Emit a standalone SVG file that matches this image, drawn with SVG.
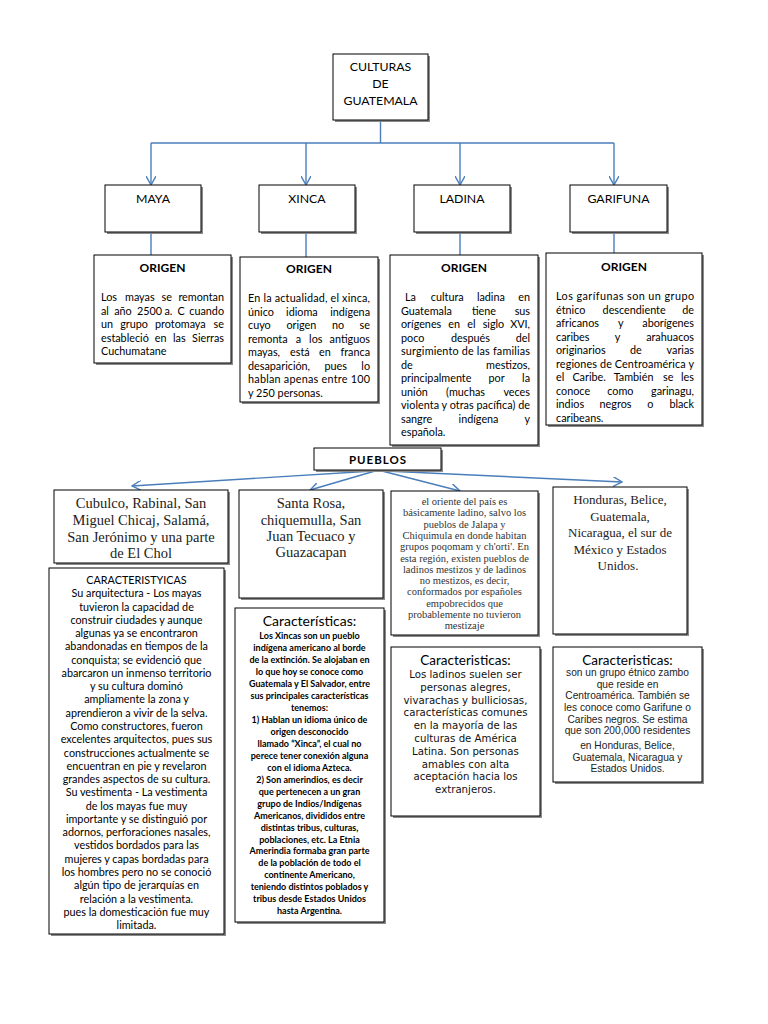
<svg xmlns="http://www.w3.org/2000/svg" width="768" height="1024" viewBox="0 0 768 1024">
<defs>
<style>
.bx{fill:#fff;stroke:#000;stroke-width:1}
.sh{fill:#8a8a8a}
.c{stroke:#4a7ebb;stroke-width:1.4;fill:none}
.cal{font-family:Lato,"Liberation Sans",sans-serif;fill:#000}
.hd{font-size:12.3px;text-anchor:middle}
.og{font-size:12px;font-weight:bold;text-anchor:middle}
.ob{font-size:10.8px}
.e{text-anchor:end}
.tnr{font-family:"Liberation Serif","Times New Roman",serif;fill:#222;text-anchor:middle}
.mc{font-size:10.8px;text-anchor:middle}
.xc{font-size:9px;font-weight:bold;text-anchor:middle}
.tt{font-size:13.5px;text-anchor:middle}
.ver{font-family:"DejaVu Sans",Verdana,sans-serif;font-size:10.2px;text-anchor:middle;fill:#111}
.ari{font-family:"Liberation Sans",Arial,sans-serif;font-size:10.2px;text-anchor:middle;fill:#222}
</style>
<marker id="ar" viewBox="0 0 10 10" refX="9" refY="5" markerWidth="10" markerHeight="10" markerUnits="userSpaceOnUse" orient="auto">
<path d="M0,0 L9,5 L0,10" fill="none" stroke="#4a7ebb" stroke-width="1.4"/>
</marker>
</defs>
<rect width="768" height="1024" fill="#fff"/>

<g id="connectors">
<path class="c" d="M380.5,120 V143 M151,143 H614"/>
<path class="c" d="M151,143 V185" marker-end="url(#ar)"/>
<path class="c" d="M306,143 V185" marker-end="url(#ar)"/>
<path class="c" d="M460,143 V185" marker-end="url(#ar)"/>
<path class="c" d="M614,143 V185" marker-end="url(#ar)"/>
<path class="c" d="M151,232 V255 M306,232 V257 M460,232 V255 M614,232 V253"/>
<path class="c" d="M373,471 L132,486" marker-end="url(#ar)"/>
<path class="c" d="M375,471 L310,490" marker-end="url(#ar)"/>
<path class="c" d="M382,471 L460,491" marker-end="url(#ar)"/>
<path class="c" d="M385,471 L622,482" marker-end="url(#ar)"/>
</g>

<g id="root">
<rect class="sh" x="335" y="56" width="95" height="66"/>
<rect class="bx" x="333" y="54" width="95" height="66"/>
<text class="cal hd" x="380.5" y="71">CULTURAS</text>
<text class="cal hd" x="380.5" y="88">DE</text>
<text class="cal hd" x="380.5" y="105">GUATEMALA</text>
</g>

<g id="maya">
<rect class="sh" x="107" y="187" width="96" height="47"/>
<rect class="bx" x="105" y="185" width="96" height="47"/>
<text class="cal hd" x="153" y="203">MAYA</text>
</g>
<g id="xinca">
<rect class="sh" x="261" y="187" width="96" height="47"/>
<rect class="bx" x="259" y="185" width="96" height="47"/>
<text class="cal hd" x="307" y="203">XINCA</text>
</g>
<g id="ladina">
<rect class="sh" x="416" y="187" width="96" height="47"/>
<rect class="bx" x="414" y="185" width="96" height="47"/>
<text class="cal hd" x="462" y="203">LADINA</text>
</g>
<g id="garifuna">
<rect class="sh" x="572" y="187" width="97" height="47"/>
<rect class="bx" x="570" y="185" width="97" height="47"/>
<text class="cal hd" x="618.5" y="203">GARIFUNA</text>
</g>

<g id="origen-maya">
<rect class="sh" x="96" y="257" width="137" height="108"/>
<rect class="bx" x="94" y="255" width="137" height="108"/>
<text class="cal og" x="162.5" y="272">ORIGEN</text>
<g class="cal ob">
<text y="301"><tspan x="101">Los</tspan><tspan x="125">mayas</tspan><tspan x="161.5">se</tspan></text><text class="e" x="224" y="301">remontan</text>
<text y="314.5"><tspan x="101">al</tspan><tspan x="114.2">año</tspan><tspan x="137">2500</tspan><tspan x="164.5">a.</tspan><tspan x="177.5">C</tspan></text><text class="e" x="224" y="314.5">cuando</text>
<text y="328"><tspan x="101">un</tspan><tspan x="120.2">grupo</tspan><tspan x="155">protomaya</tspan></text><text class="e" x="224" y="328">se</text>
<text y="341.5"><tspan x="101">estableció</tspan><tspan x="154.8">en</tspan><tspan x="173">las</tspan></text><text class="e" x="224" y="341.5">Sierras</text>
<text x="101" y="355">Cuchumatane</text>
</g>
</g>

<g id="origen-xinca">
<rect class="sh" x="242" y="259" width="138" height="145"/>
<rect class="bx" x="240" y="257" width="138" height="145"/>
<text class="cal og" x="309" y="273">ORIGEN</text>
<g class="cal ob">
<text x="248" y="302" textLength="122" lengthAdjust="spacing">En la actualidad, el xinca,</text>
<text y="315.5"><tspan x="248">único</tspan><tspan x="286.1">idioma</tspan></text><text class="e" x="370" y="315.5">indígena</text>
<text y="329"><tspan x="248">cuyo</tspan><tspan x="286.4">origen</tspan><tspan x="332">no</tspan></text><text class="e" x="370" y="329">se</text>
<text y="342.5"><tspan x="248">remonta</tspan><tspan x="295.8">a</tspan><tspan x="309.1">los</tspan></text><text class="e" x="370" y="342.5">antiguos</text>
<text y="356"><tspan x="248">mayas,</tspan><tspan x="290">está</tspan><tspan x="319.1">en</tspan></text><text class="e" x="370" y="356">franca</text>
<text y="369.5"><tspan x="248">desaparición,</tspan><tspan x="324.5">pues</tspan></text><text class="e" x="370" y="369.5">lo</text>
<text x="248" y="383" textLength="122" lengthAdjust="spacing">hablan apenas entre 100</text>
<text x="248" y="396.5">y 250 personas.</text>
</g>
</g>

<g id="origen-ladina">
<rect class="sh" x="392" y="257" width="148" height="190"/>
<rect class="bx" x="390" y="255" width="148" height="190"/>
<text class="cal og" x="464" y="272">ORIGEN</text>
<g class="cal ob">
<text y="301"><tspan x="405">La</tspan><tspan x="430.8">cultura</tspan><tspan x="476.9">ladina</tspan></text><text class="e" x="530" y="301">en</text>
<text y="314.5"><tspan x="401">Guatemala</tspan><tspan x="471.9">tiene</tspan></text><text class="e" x="530" y="314.5">sus</text>
<text y="328"><tspan x="401">orígenes</tspan><tspan x="448.2">en</tspan><tspan x="467.2">el</tspan><tspan x="482.7">siglo</tspan></text><text class="e" x="530" y="328">XVI,</text>
<text y="341.5"><tspan x="401">poco</tspan><tspan x="451">después</tspan></text><text class="e" x="530" y="341.5">del</text>
<text x="401" y="355" textLength="129" lengthAdjust="spacing">surgimiento de las familias</text>
<text x="401" y="368.5">de</text><text class="e" x="530" y="368.5">mestizos,</text>
<text y="382"><tspan x="401">principalmente</tspan><tspan x="488.5">por</tspan></text><text class="e" x="530" y="382">la</text>
<text y="395.5"><tspan x="401">unión</tspan><tspan x="446.1">(muchas</tspan></text><text class="e" x="530" y="395.5">veces</text>
<text x="401" y="409" textLength="129" lengthAdjust="spacing">violenta y otras pacífica) de</text>
<text y="422.5"><tspan x="401">sangre</tspan><tspan x="458.6">indígena</tspan></text><text class="e" x="530" y="422.5">y</text>
<text x="401" y="436">española.</text>
</g>
</g>

<g id="origen-garifuna">
<rect class="sh" x="548" y="255" width="156" height="172"/>
<rect class="bx" x="546" y="253" width="156" height="172"/>
<text class="cal og" x="624" y="271">ORIGEN</text>
<g class="cal ob">
<text x="556" y="300" textLength="138" lengthAdjust="spacing">Los garífunas son un grupo</text>
<text y="313.5"><tspan x="556">étnico</tspan><tspan x="602.6">descendiente</tspan></text><text class="e" x="694" y="313.5">de</text>
<text y="327"><tspan x="556">africanos</tspan><tspan x="618">y</tspan></text><text class="e" x="694" y="327">aborígenes</text>
<text y="340.5"><tspan x="556">caribes</tspan><tspan x="614.7">y</tspan></text><text class="e" x="694" y="340.5">arahuacos</text>
<text y="354"><tspan x="556">originarios</tspan><tspan x="630">de</tspan></text><text class="e" x="694" y="354">varias</text>
<text x="556" y="367.5" textLength="138" lengthAdjust="spacing">regiones de Centroamérica y</text>
<text y="381"><tspan x="556">el</tspan><tspan x="572.4">Caribe.</tspan><tspan x="613.7">También</tspan><tspan x="663">se</tspan></text><text class="e" x="694" y="381">les</text>
<text y="394.5"><tspan x="556">conoce</tspan><tspan x="607.3">como</tspan></text><text class="e" x="694" y="394.5">garinagu,</text>
<text y="408"><tspan x="556">indios</tspan><tspan x="599.6">negros</tspan><tspan x="647.3">o</tspan></text><text class="e" x="694" y="408">black</text>
<text x="556" y="421.5">caribeans.</text>
</g>
</g>

<g id="pueblos">
<rect class="sh" x="316" y="450" width="127" height="22"/>
<rect class="bx" x="314" y="448" width="127" height="22"/>
<text class="cal" x="378" y="463.5" style="font-size:11.5px;font-weight:bold;text-anchor:middle;letter-spacing:1px">PUEBLOS</text>
</g>

<g id="pueblos-maya">
<rect class="sh" x="56" y="492" width="174" height="73"/>
<rect class="bx" x="54" y="490" width="174" height="73"/>
<g class="tnr" style="font-size:14.5px">
<text x="141" y="508">Cubulco, Rabinal, San</text>
<text x="141" y="525">Miguel Chicaj, Salamá,</text>
<text x="141" y="542">San Jerónimo y una parte</text>
<text x="141" y="558">de El Chol</text>
</g>
</g>

<g id="pueblos-xinca">
<rect class="sh" x="241" y="492" width="144" height="108"/>
<rect class="bx" x="239" y="490" width="144" height="108"/>
<g class="tnr" style="font-size:14.5px">
<text x="311" y="508">Santa Rosa,</text>
<text x="311" y="525">chiquemulla, San</text>
<text x="311" y="541">Juan Tecuaco y</text>
<text x="311" y="557">Guazacapan</text>
</g>
</g>

<g id="pueblos-ladina">
<rect class="sh" x="393" y="493" width="147" height="144"/>
<rect class="bx" x="391" y="491" width="147" height="144"/>
<g class="tnr" style="font-size:10.5px;fill:#333">
<text x="464.5" y="505">el oriente del país es</text>
<text x="464.5" y="516.3">básicamente ladino, salvo los</text>
<text x="464.5" y="527.6">pueblos de Jalapa y</text>
<text x="464.5" y="538.9">Chiquimula en donde habitan</text>
<text x="464.5" y="550.2">grupos poqomam y ch'orti'. En</text>
<text x="464.5" y="561.5">esta región, existen pueblos de</text>
<text x="464.5" y="572.8">ladinos mestizos y de ladinos</text>
<text x="464.5" y="584.1">no mestizos, es decir,</text>
<text x="464.5" y="595.4">conformados por españoles</text>
<text x="464.5" y="606.7">empobrecidos que</text>
<text x="464.5" y="618">probablemente no tuvieron</text>
<text x="464.5" y="629.3">mestizaje</text>
</g>
</g>

<g id="pueblos-garifuna">
<rect class="sh" x="555" y="489" width="134" height="147"/>
<rect class="bx" x="553" y="487" width="134" height="147"/>
<g class="tnr" style="font-size:13px">
<text x="620" y="504">Honduras, Belice,</text>
<text x="620" y="520.5">Guatemala,</text>
<text x="620" y="537">Nicaragua, el sur de</text>
<text x="620" y="553.5">México y Estados</text>
<text x="618" y="570">Unidos.</text>
</g>
</g>

<g id="caract-maya">
<rect class="sh" x="51" y="570" width="175" height="366"/>
<rect class="bx" x="49" y="568" width="175" height="366"/>
<g class="cal mc">
<text x="136.5" y="584">CARACTERISTYICAS</text>
<text x="136.5" y="597.3">Su arquitectura - Los mayas</text>
<text x="136.5" y="610.5">tuvieron la capacidad de</text>
<text x="136.5" y="623.8">construir ciudades y aunque</text>
<text x="136.5" y="637.1">algunas ya se encontraron</text>
<text x="136.5" y="650.4">abandonadas en tiempos de la</text>
<text x="136.5" y="663.6">conquista; se evidenció que</text>
<text x="136.5" y="676.9">abarcaron un inmenso territorio</text>
<text x="136.5" y="690.2">y su cultura dominó</text>
<text x="136.5" y="703.4">ampliamente la zona y</text>
<text x="136.5" y="716.7">aprendieron a vivir de la selva.</text>
<text x="136.5" y="730">Como constructores, fueron</text>
<text x="136.5" y="743.2">excelentes arquitectos, pues sus</text>
<text x="136.5" y="756.5">construcciones actualmente se</text>
<text x="136.5" y="769.8">encuentran en pie y revelaron</text>
<text x="136.5" y="783">grandes aspectos de su cultura.</text>
<text x="136.5" y="796.3">Su vestimenta - La vestimenta</text>
<text x="136.5" y="809.6">de los mayas fue muy</text>
<text x="136.5" y="822.9">importante y se distinguió por</text>
<text x="136.5" y="836.1">adornos, perforaciones nasales,</text>
<text x="136.5" y="849.4">vestidos bordados para las</text>
<text x="136.5" y="862.7">mujeres y capas bordadas para</text>
<text x="136.5" y="875.9">los hombres pero no se conoció</text>
<text x="136.5" y="889.2">algún tipo de jerarquías en</text>
<text x="136.5" y="902.5">relación a la vestimenta.</text>
<text x="136.5" y="915.8">pues la domesticación fue muy</text>
<text x="136.5" y="929">limitada.</text>
</g>
</g>

<g id="caract-xinca">
<rect class="sh" x="237" y="610" width="149" height="314"/>
<rect class="bx" x="235" y="608" width="149" height="314"/>
<text class="cal tt" x="309.5" y="626" style="font-size:14px">Características:</text>
<g class="cal xc">
<text x="309.5" y="639.3">Los Xincas son un pueblo</text>
<text x="309.5" y="651.3">indígena americano al borde</text>
<text x="309.5" y="663.2">de la extinción. Se alojaban en</text>
<text x="309.5" y="675.2">lo que hoy se conoce como</text>
<text x="309.5" y="687.1">Guatemala y El Salvador, entre</text>
<text x="309.5" y="699.1">sus principales características</text>
<text x="309.5" y="711">tenemos:</text>
<text x="309.5" y="723">1) Hablan un idioma único de</text>
<text x="309.5" y="734.9">origen desconocido</text>
<text x="309.5" y="746.9">llamado “Xinca”, el cual no</text>
<text x="309.5" y="758.8">perece tener conexión alguna</text>
<text x="309.5" y="770.8">con el idioma Azteca.</text>
<text x="309.5" y="782.7">2) Son amerindios, es decir</text>
<text x="309.5" y="794.7">que pertenecen a un gran</text>
<text x="309.5" y="806.6">grupo de Indios/Indígenas</text>
<text x="309.5" y="818.6">Americanos, divididos entre</text>
<text x="309.5" y="830.5">distintas tribus, culturas,</text>
<text x="309.5" y="842.5">poblaciones, etc. La Etnia</text>
<text x="309.5" y="854.4">Amerindia formaba gran parte</text>
<text x="309.5" y="866.4">de la población de todo el</text>
<text x="309.5" y="878.3">continente Americano,</text>
<text x="309.5" y="890.3">teniendo distintos poblados y</text>
<text x="309.5" y="902.2">tribus desde Estados Unidos</text>
<text x="309.5" y="914.2">hasta Argentina.</text>
</g>
</g>

<g id="caract-ladina">
<rect class="sh" x="393" y="649" width="149" height="169"/>
<rect class="bx" x="391" y="647" width="149" height="169"/>
<text class="cal tt" x="465.5" y="664.5">Caracteristicas:</text>
<g class="ver">
<text x="465.5" y="678">Los ladinos suelen ser</text>
<text x="465.5" y="690.8">personas alegres,</text>
<text x="465.5" y="703.6">vivarachas y bulliciosas,</text>
<text x="465.5" y="716.4">características comunes</text>
<text x="465.5" y="729.2">en la mayoría de las</text>
<text x="465.5" y="742">culturas de América</text>
<text x="465.5" y="754.8">Latina. Son personas</text>
<text x="465.5" y="767.6">amables con alta</text>
<text x="465.5" y="780.4">aceptación hacia los</text>
<text x="465.5" y="793.2">extranjeros.</text>
</g>
</g>

<g id="caract-garifuna">
<rect class="sh" x="555" y="649" width="149" height="135"/>
<rect class="bx" x="553" y="647" width="149" height="135"/>
<text class="cal tt" x="627.5" y="664.5">Caracteristicas:</text>
<g class="ari">
<text x="627.5" y="676">son un grupo étnico zambo</text>
<text x="627.5" y="687.5">que reside en</text>
<text x="627.5" y="699">Centroamérica. También se</text>
<text x="627.5" y="710.8">les conoce como Garifune o</text>
<text x="627.5" y="722.5">Caribes negros. Se estima</text>
<text x="627.5" y="734">que son 200,000 residentes</text>
<text x="627.5" y="749">en Honduras, Belice,</text>
<text x="627.5" y="760.5">Guatemala, Nicaragua y</text>
<text x="627.5" y="772">Estados Unidos.</text>
</g>
</g>
</svg>
